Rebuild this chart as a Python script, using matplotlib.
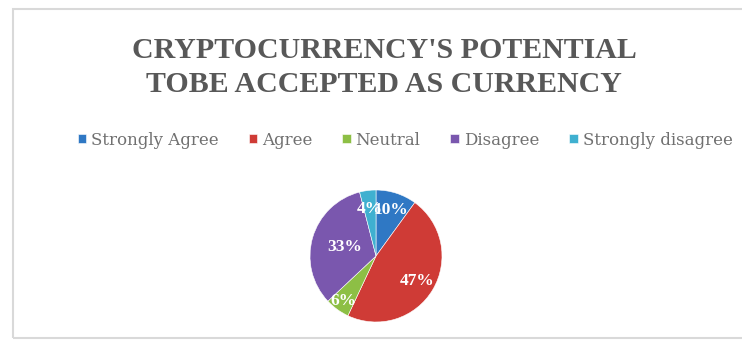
import numpy as np
import matplotlib
matplotlib.use("Agg")
import matplotlib.pyplot as plt
from matplotlib.patches import Rectangle

# survey responses (percent of respondents)
labels = ['Strongly Agree', 'Agree', 'Neutral', 'Disagree', 'Strongly disagree']
shares = [10, 47, 6, 33, 4]
colors = ['#2f78c4', '#cf3b36', '#8dbf45', '#7a57ae', '#3fb0d0']
# how far out each percentage sits, as a fraction of the radius
label_r = [0.74, 0.73, 0.85, 0.50, 0.72]

fig = plt.figure(figsize=(7.42, 3.44), dpi=100)
fig.patch.set_facecolor('white')

# chart area outline
fig.patches.append(Rectangle((13/742, 1 - 338/344), 740/742, 329/344,
                             transform=fig.transFigure, fill=False,
                             edgecolor='#d9d9d9', lw=1.5))

fig.text(384/742, 1 - 67.5/344,
         "CRYPTOCURRENCY'S POTENTIAL\nTOBE ACCEPTED AS CURRENCY",
         ha='center', va='center', fontsize=21.5, fontweight='bold',
         family='Liberation Serif', color='#585858', linespacing=1.34)

cx, cy, r = 376/742, 1 - 256/344, 66
ax = fig.add_axes([cx - r/742, cy - r/344, 2*r/742, 2*r/344])
wedges, _ = ax.pie(shares, colors=colors, startangle=90, counterclock=False,
                   radius=1, wedgeprops=dict(edgecolor='white', linewidth=0.4))
ax.set_xlim(-1, 1)
ax.set_ylim(-1, 1)
ax.set_aspect('equal')
ax.axis('off')

for w, val, d in zip(wedges, shares, label_r):
    mid = np.deg2rad((w.theta1 + w.theta2) / 2)
    ax.text(d*np.cos(mid), d*np.sin(mid), f'{val}%', ha='center', va='center',
            color='white', fontsize=12.5, fontweight='bold', family='Liberation Serif')

fig.legend(wedges, labels, loc='center', bbox_to_anchor=(405/742, 1 - 140/344),
           ncol=5, frameon=False, prop={'family': 'DejaVu Serif', 'size': 12},
           labelcolor='#707070', handlelength=0.5, handleheight=0.5,
           handletextpad=0.3, columnspacing=1.8)

fig.savefig('out.png', dpi=100, facecolor='white')
